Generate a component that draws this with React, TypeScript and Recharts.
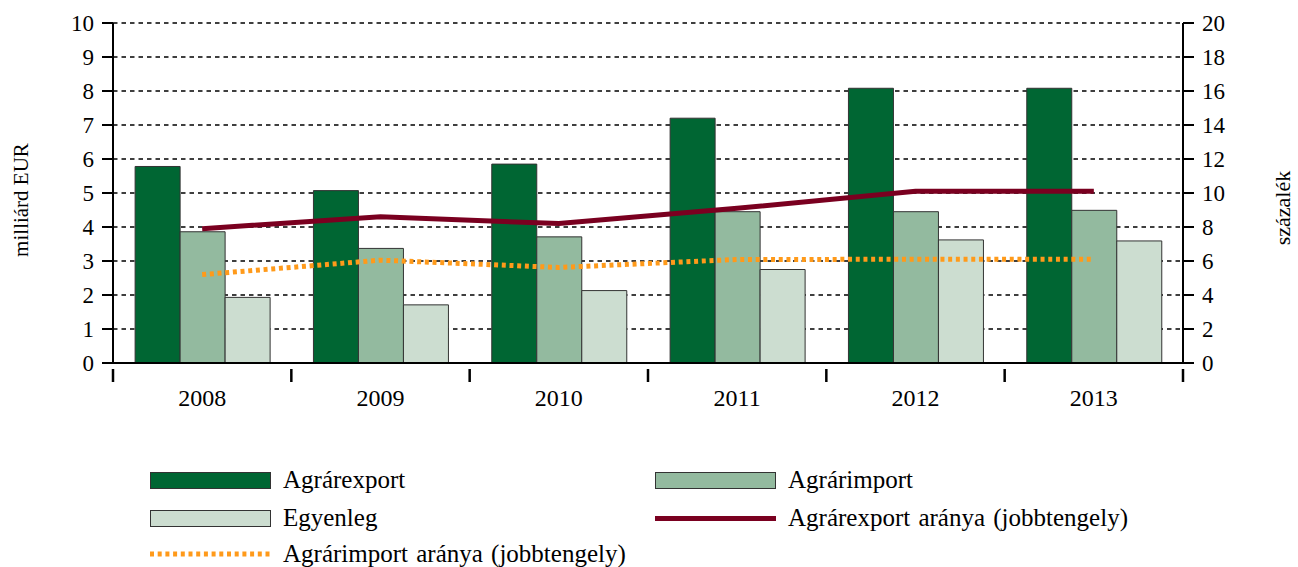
import React from 'react';
import {
    ComposedChart, Bar, Line, XAxis, YAxis, CartesianGrid
} from 'recharts';

const years = ['2008', '2009', '2010', '2011', '2012', '2013'];
const agrarexport = [5.78, 5.07, 5.85, 7.2, 8.08, 8.08];
const agrarimport = [3.86, 3.37, 3.71, 4.45, 4.45, 4.49];
const egyenleg = [1.93, 1.71, 2.13, 2.75, 3.62, 3.59];
const exportArany = [7.9, 8.6, 8.2, 9.1, 10.1, 10.1];
const importArany = [5.2, 6.05, 5.62, 6.09, 6.1, 6.1];

const leftTicks = [0, 1, 2, 3, 4, 5, 6, 7, 8, 9, 10];
const rightTicks = [0, 2, 4, 6, 8, 10, 12, 14, 16, 18, 20];

const data = years.map((y, i) => ({
    year: y,
    exp: agrarexport[i],
    imp: agrarimport[i],
    egy: egyenleg[i],
    expA: exportArany[i],
    impA: importArany[i],
}));

const C_EXP = '#006633';
const C_IMP = '#93BA9F';
const C_EGY = '#CCDDD0';
const C_EXPA = '#7A0020';
const C_IMPA = '#FF9A1A';
const FONT = "'Times New Roman', 'Liberation Serif', Times, serif";

const HALF_BAND = 1070 / 12;

// category label in the middle, tick marks on the category borders
const XTick = (props: any) => {
    const { x, y, payload, index } = props;
    return (
        <g>
            <line x1={x - HALF_BAND} x2={x - HALF_BAND} y1={y - 2} y2={y + 11} stroke="#000" strokeWidth={2.5} />
            {index === years.length - 1 && (
                <line x1={x + HALF_BAND} x2={x + HALF_BAND} y1={y - 2} y2={y + 11} stroke="#000" strokeWidth={2.5} />
            )}
            <text x={x} y={y + 35} textAnchor="middle" fontSize={24} fontFamily={FONT} fill="#000">
                {payload.value}
            </text>
        </g>
    );
};

const legendItems = [
    { label: 'Agrárexport', kind: 'bar', color: C_EXP, left: 150, top: 471 },
    { label: 'Agrárimport', kind: 'bar', color: C_IMP, left: 655, top: 471 },
    { label: 'Egyenleg', kind: 'bar', color: C_EGY, left: 150, top: 509 },
    { label: 'Agrárexport aránya (jobbtengely)', kind: 'line', color: C_EXPA, left: 655, top: 509 },
    { label: 'Agrárimport aránya (jobbtengely)', kind: 'dot', color: C_IMPA, left: 150, top: 545 },
];

export default function App() {
    return (
        <div style={{ position: 'absolute', left: 0, top: 0, width: 1298, height: 567, background: '#fff', fontFamily: FONT }}>
            <ComposedChart
                width={1298}
                height={420}
                data={data}
                margin={{ top: 23, right: 0, bottom: 0, left: 0 }}
                barGap={0}
                barCategoryGap="12.4%"
            >
                <CartesianGrid yAxisId="left" vertical={false} stroke="#000" strokeWidth={1.6} strokeDasharray="4.5 4" />
                <XAxis
                    dataKey="year"
                    height={57}
                    axisLine={{ stroke: '#000', strokeWidth: 2 }}
                    tickLine={false}
                    tick={<XTick />}
                    interval={0}
                />
                <YAxis
                    yAxisId="left"
                    width={113}
                    domain={[0, 10]}
                    ticks={leftTicks}
                    interval={0}
                    axisLine={{ stroke: '#000', strokeWidth: 2 }}
                    tickLine={{ stroke: '#000', strokeWidth: 2 }}
                    tickSize={11}
                    tickMargin={8}
                    tick={{ fill: '#000', fontSize: 23, fontFamily: FONT }}
                />
                <YAxis
                    yAxisId="right"
                    orientation="right"
                    width={115}
                    domain={[0, 20]}
                    ticks={rightTicks}
                    interval={0}
                    axisLine={{ stroke: '#000', strokeWidth: 2 }}
                    tickLine={{ stroke: '#000', strokeWidth: 2 }}
                    tickSize={11}
                    tickMargin={8}
                    tick={{ fill: '#000', fontSize: 23, fontFamily: FONT }}
                />
                <Bar yAxisId="left" dataKey="exp" fill={C_EXP} stroke="#333" strokeWidth={1} isAnimationActive={false} />
                <Bar yAxisId="left" dataKey="imp" fill={C_IMP} stroke="#333" strokeWidth={1} isAnimationActive={false} />
                <Bar yAxisId="left" dataKey="egy" fill={C_EGY} stroke="#333" strokeWidth={1} isAnimationActive={false} />
                <Line yAxisId="right" dataKey="expA" stroke={C_EXPA} strokeWidth={5} dot={false} isAnimationActive={false} />
                <Line yAxisId="right" dataKey="impA" stroke={C_IMPA} strokeWidth={5} strokeDasharray="4 3.7" dot={false} isAnimationActive={false} />
            </ComposedChart>

            <div style={{ position: 'absolute', left: 21, top: 200, transform: 'translate(-50%, -50%) rotate(-90deg)', fontSize: 21, whiteSpace: 'nowrap' }}>
                milliárd EUR
            </div>
            <div style={{ position: 'absolute', left: 1283, top: 208, transform: 'translate(-50%, -50%) rotate(-90deg)', fontSize: 22, whiteSpace: 'nowrap' }}>
                százalék
            </div>

            {legendItems.map((it) => (
                <div key={it.label} style={{ position: 'absolute', left: it.left, top: it.top, height: 18, display: 'flex', alignItems: 'center' }}>
                    {it.kind === 'bar' && (
                        <div style={{ width: 119, height: 15, background: it.color, border: '1px solid #333' }} />
                    )}
                    {it.kind === 'line' && (
                        <div style={{ width: 121, height: 5, background: it.color }} />
                    )}
                    {it.kind === 'dot' && (
                        <svg width={121} height={6}><line x1={0} x2={121} y1={3} y2={3} stroke={it.color} strokeWidth={5} strokeDasharray="4 3.7" /></svg>
                    )}
                    <span style={{ marginLeft: 12, fontSize: 25, wordSpacing: 2, whiteSpace: 'nowrap', lineHeight: '18px' }}>{it.label}</span>
                </div>
            ))}
        </div>
    );
}
